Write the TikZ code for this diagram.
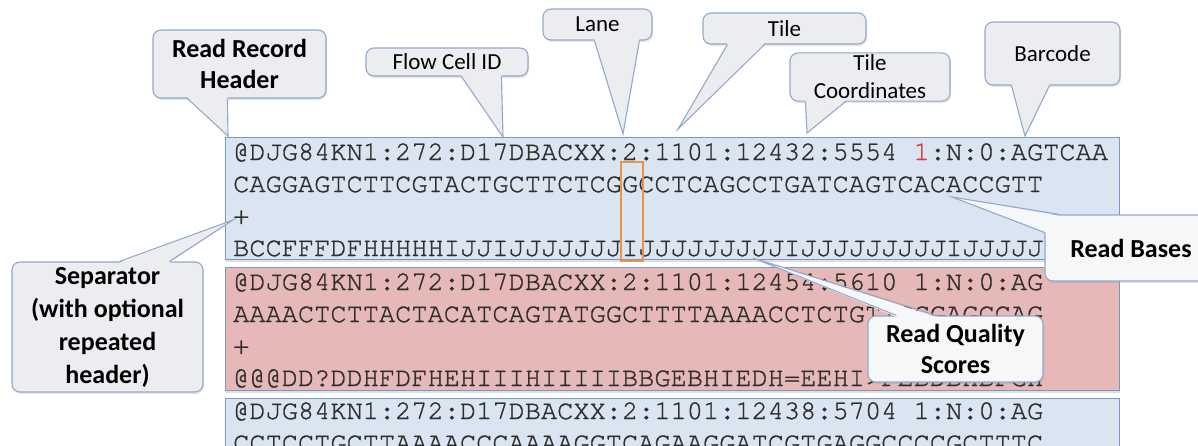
\documentclass[tikz,border=0pt]{standalone}
\usepackage{fontspec}
\setmainfont{Carlito}
\newfontfamily\seqfont[RawFeature={embolden=1.2}]{TeX Gyre Cursor}
\usetikzlibrary{shadows}

\definecolor{seqblue}{HTML}{DBE5F1}
\definecolor{seqpink}{HTML}{E6B9B8}
\definecolor{seqedge}{HTML}{7B98C4}
\definecolor{seqtext}{HTML}{2E2E2E}
\definecolor{calledge}{HTML}{93A9CB}
\definecolor{callgray}{HTML}{EBEDF0}
\definecolor{calllight}{HTML}{F6F7F8}
\definecolor{hiorange}{HTML}{E8924C}
\definecolor{onered}{HTML}{E03C3C}

\tikzset{
  seqbox/.style={draw=seqedge, line width=1.4pt, anchor=north west,
    drop shadow={opacity=0.25, shadow xshift=0pt, shadow yshift=-2.5pt}},
  seqline/.style={anchor=base west, inner sep=0pt, text=seqtext,
    font=\fontsize{27}{32}\seqfont},
  callbox/.style={draw=calledge, fill=callgray, line width=1.1pt,
    rounded corners=8pt, inner sep=2pt, align=center,
    font=\fontsize{23}{28}\selectfont,
    drop shadow={opacity=0.2, shadow xshift=1pt, shadow yshift=-2pt}},
  boldcall/.style={callbox, font=\fontsize{26}{31}\selectfont\bfseries},
  wedgeline/.style={draw=calledge, line width=1.1pt},
}

\begin{document}
\begin{tikzpicture}[x=1pt, y=-1pt]
  \useasboundingbox (0,0) rectangle (1198,445);

  % three records
  \node[seqbox, fill=seqblue, minimum width=894pt, minimum height=122pt] (rec1) at (225,137) {};
  \node[seqbox, fill=seqpink, minimum width=894pt, minimum height=123pt] (rec2) at (225,267) {};
  \node[seqbox, fill=seqblue, minimum width=894pt, minimum height=80pt] (rec3) at (225,398) {};

  \node[seqline] (h1) at (233,160) {@DJG84KN1:272:D17DBACXX:2:1101:12432:5554 \textcolor{onered}{1}:N:0:AGTCAA};
  \node[seqline] (s1) at (233,192) {CAGGAGTCTTCGTACTGCTTCTCGGCCTCAGCCTGATCAGTCACACCGTT};
  \node[seqline] (p1) at (233,224) {+};
  \node[seqline] (q1) at (233,256) {BCCFFFDFHHHHHIJJIJJJJJJJIJJJJJJJJJIJJJJJJJJJIJJJJJ};

  \node[seqline] (h2) at (233,290) {@DJG84KN1:272:D17DBACXX:2:1101:12454:5610 1:N:0:AG};
  \node[seqline] (s2) at (233,322) {AAAACTCTTACTACATCAGTATGGCTTTTAAAACCTCTGTTCGGAGCCAG};
  \node[seqline] (p2) at (233,354) {+};
  \node[seqline] (q2) at (233,386) {@@@DD?DDHFDFHEHIIIHIIIIIBBGEBHIEDH=EEHI>FEBDBHBFGH};

  \node[seqline] (h3) at (233,419) {@DJG84KN1:272:D17DBACXX:2:1101:12438:5704 1:N:0:AG};
  \node[seqline] (s3) at (233,451) {CCTCCTGCTTAAAACCCAAAAGGTCAGAAGGATCGTGAGGCCCCGCTTTC};

  % one base and its score
  \node[draw=hiorange, line width=2pt, anchor=north west, minimum width=22pt, minimum height=99pt] (pick) at (620,161) {};

  % pointer tips
  \coordinate (rrhtip) at (228,136);
  \coordinate (fcitip) at (503,137);
  \coordinate (lanetip) at (623,134);
  \coordinate (tiletip) at (678,129);
  \coordinate (tcotip) at (807,133);
  \coordinate (bctip) at (1025,136);
  \coordinate (rbtip) at (952,197);
  \coordinate (rqstip) at (753,258);
  \coordinate (septip) at (233,220);

  % callouts
  \node[boldcall, minimum width=173pt, minimum height=68pt] (rrh) at (239.5,64) {Read Record\\Header};
  \fill[callgray] ([xshift=35pt,yshift=1.5pt]rrh.south west) -- (rrhtip) -- ([xshift=75pt,yshift=1.5pt]rrh.south west) -- cycle;
  \draw[wedgeline] ([xshift=35pt]rrh.south west) -- (rrhtip) -- ([xshift=75pt]rrh.south west);

  \node[callbox, minimum width=162pt, minimum height=28pt] (fci) at (447,62) {Flow Cell ID};
  \fill[callgray] ([xshift=96pt,yshift=1.5pt]fci.south west) -- (fcitip) -- ([xshift=136pt,yshift=1.5pt]fci.south west) -- cycle;
  \draw[wedgeline] ([xshift=96pt]fci.south west) -- (fcitip) -- ([xshift=136pt]fci.south west);

  \node[callbox, minimum width=109pt, minimum height=31pt] (lane) at (597.5,24.5) {Lane};
  \fill[callgray] ([xshift=52pt,yshift=1.5pt]lane.south west) -- (lanetip) -- ([xshift=97pt,yshift=1.5pt]lane.south west) -- cycle;
  \draw[wedgeline] ([xshift=52pt]lane.south west) -- (lanetip) -- ([xshift=97pt]lane.south west);

  \node[callbox, minimum width=163pt, minimum height=31pt] (tile) at (784.5,28.5) {Tile};
  \fill[callgray] ([xshift=25pt,yshift=1.5pt]tile.south west) -- (tiletip) -- ([xshift=62pt,yshift=1.5pt]tile.south west) -- cycle;
  \draw[wedgeline] ([xshift=25pt]tile.south west) -- (tiletip) -- ([xshift=62pt]tile.south west);

  \node[callbox, minimum width=160pt, minimum height=48pt] (tco) at (870,77) {Tile\\Coordinates};
  \fill[callgray] ([xshift=16pt,yshift=1.5pt]tco.south west) -- (tcotip) -- ([xshift=56pt,yshift=1.5pt]tco.south west) -- cycle;
  \draw[wedgeline] ([xshift=16pt]tco.south west) -- (tcotip) -- ([xshift=56pt]tco.south west);

  \node[callbox, minimum width=135pt, minimum height=63pt] (bc) at (1052.5,53.5) {Barcode};
  \fill[callgray] ([xshift=27pt,yshift=1.5pt]bc.south west) -- (bctip) -- ([xshift=65pt,yshift=1.5pt]bc.south west) -- cycle;
  \draw[wedgeline] ([xshift=27pt]bc.south west) -- (bctip) -- ([xshift=65pt]bc.south west);

  \node[boldcall, fill=calllight, minimum width=172pt, minimum height=66pt] (rb) at (1131,248) {Read Bases};
  \fill[calllight] ([xshift=15pt,yshift=-1.5pt]rb.north west) -- (rbtip) -- ([xshift=1.5pt,yshift=-18pt]rb.north west) -- cycle;
  \draw[wedgeline] ([xshift=15pt]rb.north west) -- (rbtip) -- ([yshift=-18pt]rb.north west);

  \node[boldcall, fill=calllight, minimum width=175pt, minimum height=66pt] (rqs) at (955.5,349) {Read Quality\\Scores};
  \fill[calllight] ([xshift=29pt,yshift=-1.5pt]rqs.north west) -- (rqstip) -- ([xshift=69pt,yshift=-1.5pt]rqs.north west) -- cycle;
  \draw[wedgeline] ([xshift=29pt]rqs.north west) -- (rqstip) -- ([xshift=69pt]rqs.north west);

  \node[boldcall, font=\fontsize{26}{33}\selectfont\bfseries, minimum width=191pt, minimum height=130pt] (sep) at (107.5,327) {Separator\\(with optional\\repeated\\header)};
  \fill[callgray] ([xshift=108pt,yshift=-1.5pt]sep.north west) -- (septip) -- ([xshift=158pt,yshift=-1.5pt]sep.north west) -- cycle;
  \draw[wedgeline] ([xshift=108pt]sep.north west) -- (septip) -- ([xshift=158pt]sep.north west);
\end{tikzpicture}
\end{document}
